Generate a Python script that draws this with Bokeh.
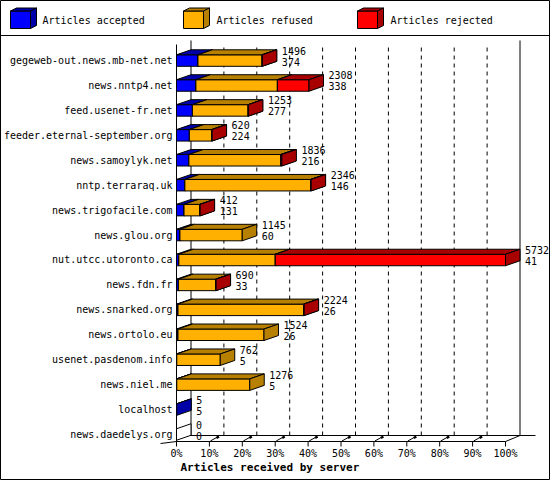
from bokeh.plotting import figure
from bokeh.models import Range1d
from bokeh.core.properties import value
from bokeh.embed import file_html
from bokeh.resources import INLINE

# ---------------- data ----------------
servers = ["gegeweb-out.news.mb-net.net", "news.nntp4.net", "feed.usenet-fr.net",
           "feeder.eternal-september.org", "news.samoylyk.net", "nntp.terraraq.uk",
           "news.trigofacile.com", "news.glou.org", "nut.utcc.utoronto.ca",
           "news.fdn.fr", "news.snarked.org", "news.ortolo.eu",
           "usenet.pasdenom.info", "news.niel.me", "localhost", "news.daedelys.org"]
totals = [1496, 2308, 1253, 620, 1836, 2346, 412, 1145, 5732, 690, 2224, 1524, 762, 1276, 5, 0]
accepted = [374, 338, 277, 224, 216, 146, 131, 60, 41, 33, 26, 26, 5, 5, 5, 0]
refused = [1117, 1420, 971, 390, 1600, 2192, 275, 1085, 1680, 650, 2190, 1498, 757, 1271, 0, 0]
rejected = [5, 550, 5, 6, 20, 8, 6, 0, 4011, 7, 8, 0, 0, 0, 0, 0]
series_names = ["Articles accepted", "Articles refused", "Articles rejected"]
tick_pcts = [0, 10, 20, 30, 40, 50, 60, 70, 80, 90, 100]
tick_labels = ["0%", "10%", "20%", "30%", "40%", "50%", "60%", "70%", "80%", "90%", "100%"]
axis_title = "Articles received by server"

# ---------------- styles ----------------
front_colors = ["#0000FF", "#FFB000", "#FF0000"]
dark_colors = ["#0000A8", "#B88000", "#A80000"]
FONT = value("DejaVu Sans Mono")

W, H = 550, 480
REF_W, REF_H = 550, 480
PX0, PX100 = 176.0, 505.0          # 0% and 100% on the front plane (design px)
ROW0_PY, ROW_STEP = 434.0, 24.93    # centre of last row, row spacing (design px)


def X(px):
    return (px - PX0) / (PX100 - PX0) * 100.0


def Y(py):
    return (ROW0_PY - py) / ROW_STEP


def DXp(px):
    return X(PX0 + px) - X(PX0)


def DYp(py):
    return py / ROW_STEP


DX = DXp(14.5)
DY = DYp(5.0)
HALF = DYp(5.75)

p = figure(width=W, height=H, output_backend="svg", toolbar_location=None,
           x_range=Range1d(X(0), X(REF_W)), y_range=Range1d(Y(REF_H), Y(0)),
           x_axis_location=None, y_axis_location=None, min_border=0,
           background_fill_color="white", border_fill_color="white")
p.grid.visible = False
p.outline_line_color = "black"
p.outline_line_width = 1

# separator under legend
p.segment(x0=[X(0)], y0=[Y(35)], x1=[X(REF_W)], y1=[Y(35)], line_color="black", line_width=1)

# ---------------- walls, grid, floor ----------------
grid_x = [t + DX for t in tick_pcts[1:-1]]
p.segment(x0=grid_x, y0=[Y(435)] * len(grid_x), x1=grid_x, y1=[Y(44)] * len(grid_x),
          line_color="black", line_width=1, line_dash="4 4")
p.segment(x0=[DX, 100 + DX, 0], y0=[Y(435), Y(435), Y(441)],
          x1=[DX, 100 + DX, 0], y1=[Y(40), Y(40), Y(44)], line_color="black", line_width=1)
# floor
p.segment(x0=[0, 100, DX, X(160)], y0=[Y(441), Y(441), Y(435), Y(443)],
          x1=[100, 100 + DX, X(535), 0], y1=[Y(441), Y(435), Y(435), Y(441)],
          line_color="black", line_width=1)
# ticks
p.segment(x0=tick_pcts, y0=[Y(441)] * len(tick_pcts), x1=tick_pcts, y1=[Y(446)] * len(tick_pcts),
          line_color="black", line_width=1)
mid = tick_pcts[1:-1]
p.segment(x0=[t + DXp(1) for t in mid], y0=[Y(440.5)] * len(mid),
          x1=[t + DXp(9) for t in mid], y1=[Y(436)] * len(mid), line_color="black", line_width=1)
p.segment(x0=[t + DXp(7) for t in mid], y0=[Y(437.5)] * len(mid),
          x1=[t + DXp(9.5) for t in mid], y1=[Y(436)] * len(mid), line_color="black", line_width=2.5)

p.text(x=tick_pcts, y=[Y(453)] * len(tick_pcts), text=tick_labels, text_font=FONT,
       text_font_size="10px", text_align="center", text_baseline="middle", text_color="black")
p.text(x=[X(180)], y=[Y(467)], text=[axis_title], text_font=FONT, text_font_size="11px",
       text_font_style="bold", text_align="left", text_baseline="middle", text_color="black")

# ---------------- bars ----------------
n = len(servers)
rows = [n - 1 - i for i in range(n)]
max_total = max(totals)
series = [accepted, refused, rejected]
cum = [0.0] * n
for k, vals in enumerate(series):
    L, R, B, T = [], [], [], []
    for i in range(n):
        left = cum[i]
        right = left + vals[i] / max_total * 100.0
        cum[i] = right
        if vals[i] > 0:
            L.append(left); R.append(right); B.append(rows[i] - HALF); T.append(rows[i] + HALF)
    p.quad(left=L, right=R, bottom=B, top=T, fill_color=front_colors[k], line_color="black", line_width=1)
    top_xs = [[l, r, r + DX, l + DX] for l, r in zip(L, R)]
    top_ys = [[t, t, t + DY, t + DY] for t in T]
    p.patches(xs=top_xs, ys=top_ys, fill_color=dark_colors[k], line_color="black", line_width=1)
    side_xs = [[r, r + DX, r + DX, r] for r in R]
    side_ys = [[b, b + DY, t + DY, t] for b, t in zip(B, T)]
    p.patches(xs=side_xs, ys=side_ys, fill_color=dark_colors[k], line_color="black", line_width=1)

# empty rows: outline-only slab
ez = [rows[i] for i in range(n) if totals[i] == 0]
p.patches(xs=[[0, DX, DX, 0] for _ in ez],
          ys=[[r - HALF, r - HALF + DY, r + HALF + DY, r + HALF] for r in ez],
          fill_color="white", line_color="black", line_width=1)

# category labels
p.text(x=[X(172)] * n, y=rows, text=servers, text_font=FONT, text_font_size="10px",
       text_align="right", text_baseline="middle", text_color="black")

# value labels
lab_x = [cum[i] + DX + DXp(5) for i in range(n)]
p.text(x=lab_x, y=[r + DYp(10) for r in rows], text=[str(v) for v in totals], text_font=FONT,
       text_font_size="10px", text_align="left", text_baseline="middle", text_color="black")
p.text(x=lab_x, y=[r - DYp(1) for r in rows], text=[str(v) for v in accepted], text_font=FONT,
       text_font_size="10px", text_align="left", text_baseline="middle", text_color="black")

# ---------------- legend ----------------
cube_x = [10, 183, 357]
text_x = [42, 216, 390]
for k in range(3):
    x0, x1 = X(cube_x[k]), X(cube_x[k] + 20)
    yt, yb = Y(10.5), Y(28)
    ddx, ddy = DXp(6), DYp(3)
    p.quad(left=[x0], right=[x1], bottom=[yb], top=[yt], fill_color=front_colors[k],
           line_color="black", line_width=1)
    p.patches(xs=[[x0, x1, x1 + ddx, x0 + ddx], [x1, x1 + ddx, x1 + ddx, x1]],
              ys=[[yt, yt, yt + ddy, yt + ddy], [yb, yb + ddy, yt + ddy, yt]],
              fill_color=dark_colors[k], line_color="black", line_width=1)
p.text(x=[X(t) for t in text_x], y=[Y(20)] * 3, text=series_names, text_font=FONT,
       text_font_size="10px", text_align="left", text_baseline="middle", text_color="black")

open("out.html", "w").write(file_html(p, INLINE))
